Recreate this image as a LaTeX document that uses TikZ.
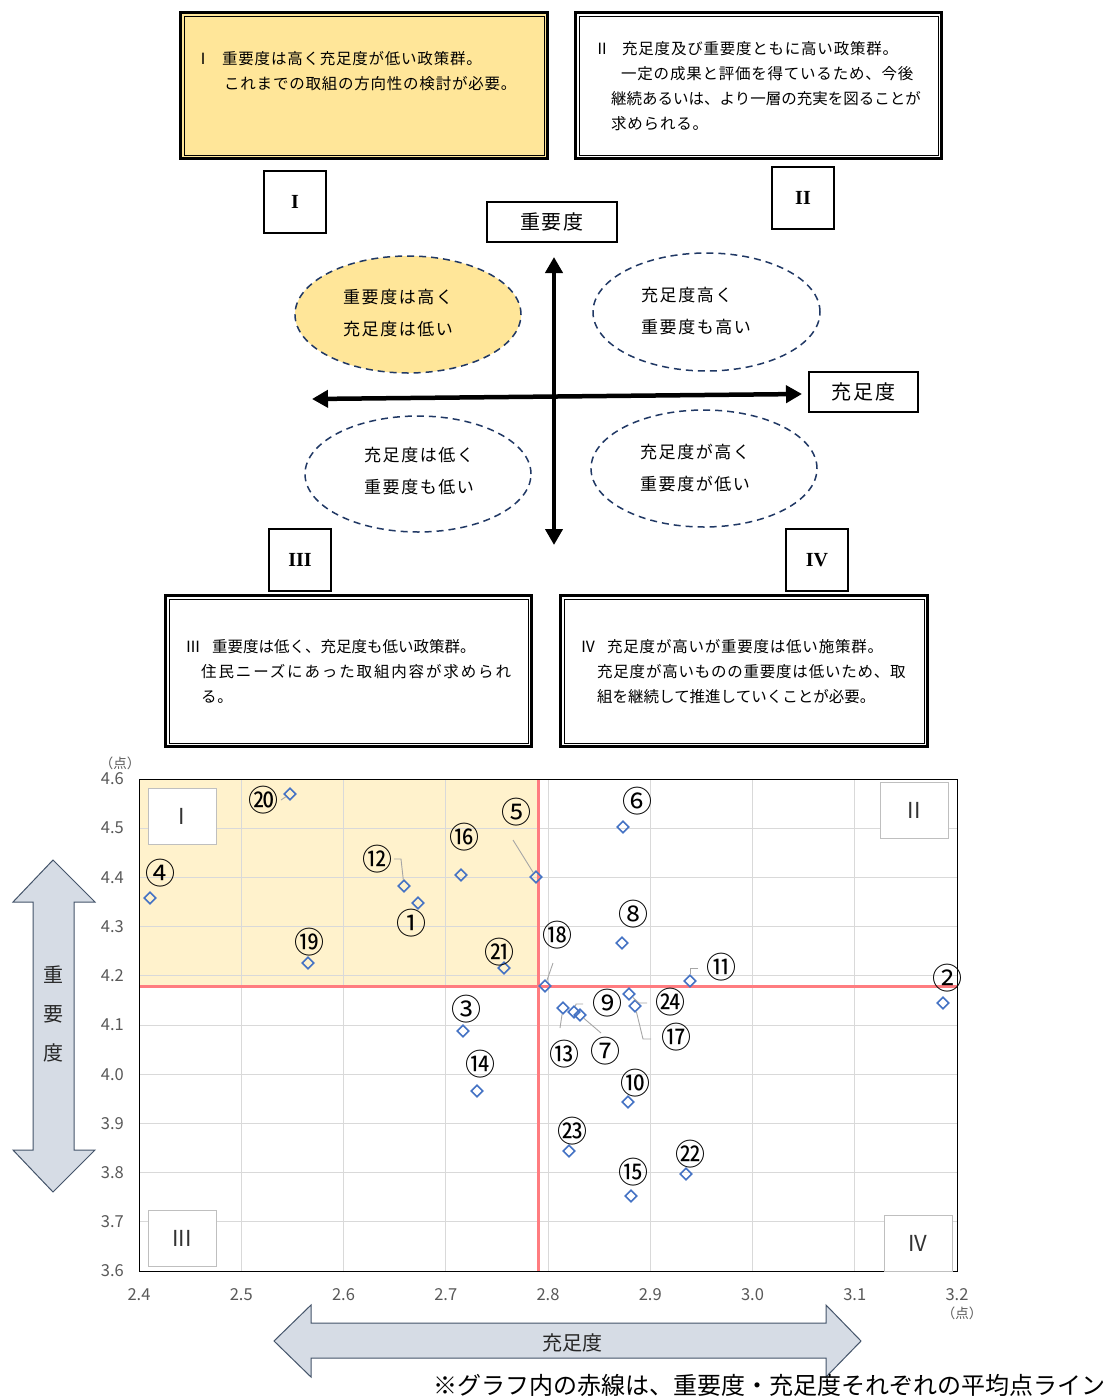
\documentclass[tikz,border=0pt]{standalone}
\usepackage{fontspec}
\setmainfont{Noto Sans CJK JP}
\newfontfamily\spfont[LetterSpace=5]{Noto Sans CJK JP}
\newfontfamily\wideffont[LetterSpace=9]{Noto Sans CJK JP}
\newfontfamily\widerfont[LetterSpace=12]{Noto Sans CJK JP}
\newfontfamily\romfont{Liberation Serif}
\usetikzlibrary{arrows.meta,shapes.geometric}
\definecolor{gold}{HTML}{FFE699}
\definecolor{paleyel}{HTML}{FFF2CC}
\definecolor{navy}{HTML}{203864}
\definecolor{redline}{HTML}{FF7C80}
\definecolor{gridc}{HTML}{D9D9D9}
\definecolor{ptblue}{HTML}{4472C4}
\definecolor{tickc}{HTML}{595959}
\definecolor{arrfill}{HTML}{D6DCE5}
\definecolor{arrline}{HTML}{44546A}
\definecolor{leadc}{HTML}{A6A6A6}
\definecolor{qbox}{HTML}{BFBFBF}
\begin{document}
\begin{tikzpicture}[x=1pt,y=-1pt,
  dblbox/.style={draw=black,line width=3pt,rectangle,inner sep=0pt},
  boxtxt/.style={anchor=west,inner sep=0pt,font=\spfont\fontsize{15.5}{18}\selectfont},
  numtxt/.style={anchor=center,inner sep=0pt,font=\fontsize{15.5}{18}\selectfont},
  romanbox/.style={draw=black,line width=1.1pt,rectangle,minimum width=62pt,minimum height=62pt,inner sep=0pt,font=\romfont\bfseries\fontsize{20}{22}\selectfont},
  axbox/.style={draw=black,line width=1.1pt,rectangle,inner sep=0pt,font=\wideffont\fontsize{20}{24}\selectfont},
  quadell/.style={draw=navy,dashed,dash pattern=on 7pt off 5pt,line width=1.5pt,ellipse,inner sep=0pt},
  elltxt/.style={anchor=west,inner sep=0pt,font=\wideffont\fontsize{17}{20}\selectfont},
  bigarrow/.style={line width=4.5pt,{Triangle[length=16pt,width=17pt]}-{Triangle[length=16pt,width=17pt]}},
  gridline/.style={draw=gridc,line width=1pt},
  avgline/.style={draw=redline,line width=3pt},
  tick/.style={inner sep=0pt,text=tickc,font=\fontsize{16.5}{18}\selectfont},
  pt/.style={diamond,draw=ptblue,line width=1.6pt,minimum width=12pt,minimum height=12pt,inner sep=0pt},
  lbl/.style={inner sep=0pt,font=\fontsize{30}{31}\selectfont},
  leader/.style={draw=leadc,line width=0.9pt},
  qlabel/.style={draw=qbox,fill=white,line width=1pt,rectangle,minimum width=68pt,minimum height=56pt,inner sep=0pt,text=black!80,font=\fontsize{22}{24}\selectfont},
  blockarrow/.style={draw=arrline,fill=arrfill,line width=1pt,line join=miter},
  arrtxt/.style={inner sep=0pt,font=\fontsize{20}{24}\selectfont,text=black!85}
]
\useasboundingbox (0,0) rectangle (1104,1398);
\fill[white] (0,0) rectangle (1104,1398);

% ---------- top and bottom explanatory boxes ----------
\node[dblbox,fill=gold,minimum width=367pt,minimum height=146pt] (bx1) at (364,85.5) {};
\draw[line width=1pt] ([shift={(5,5)}]bx1.north west) rectangle ([shift={(-5,-5)}]bx1.south east);
\node[numtxt] (n1) at (203,59) {Ⅰ};
\node[boxtxt] (t1a) at (222,59) {重要度は高く充足度が低い政策群。};
\node[boxtxt] (t1b) at (224,84) {これまでの取組の方向性の検討が必要。};

\node[dblbox,fill=white,minimum width=366pt,minimum height=146pt] (bx2) at (758.5,85.5) {};
\draw[line width=1pt] ([shift={(5,5)}]bx2.north west) rectangle ([shift={(-5,-5)}]bx2.south east);
\node[numtxt] (n2) at (602,49) {Ⅱ};
\node[boxtxt] (t2a) at (622,49) {充足度及び重要度ともに高い政策群。};
\node[boxtxt] (t2b) at (621,74) {一定の成果と評価を得ているため、今後};
\node[boxtxt,font=\fontsize{15.5}{18}\selectfont] (t2c) at (611,99) {継続あるいは、より一層の充実を図ることが};
\node[boxtxt] (t2d) at (611,124) {求められる。};

\node[dblbox,fill=white,minimum width=366pt,minimum height=151pt] (bx3) at (348.5,671) {};
\draw[line width=1pt] ([shift={(5,5)}]bx3.north west) rectangle ([shift={(-5,-5)}]bx3.south east);
\node[numtxt] (n3) at (193,647) {Ⅲ};
\node[boxtxt,font=\fontsize{15.5}{18}\selectfont] (t3a) at (212,647) {重要度は低く、充足度も低い政策群。};
\node[boxtxt,font=\widerfont\fontsize{15.5}{18}\selectfont] (t3b) at (201,672) {住民ニーズにあった取組内容が求められ};
\node[boxtxt] (t3c) at (201,697) {る。};

\node[dblbox,fill=white,minimum width=367pt,minimum height=151pt] (bx4) at (744,671) {};
\draw[line width=1pt] ([shift={(5,5)}]bx4.north west) rectangle ([shift={(-5,-5)}]bx4.south east);
\node[numtxt] (n4) at (588,647) {Ⅳ};
\node[boxtxt] (t4a) at (607,647) {充足度が高いが重要度は低い施策群。};
\node[boxtxt] (t4b) at (597,672) {充足度が高いものの重要度は低いため、取};
\node[boxtxt,font=\fontsize{15.5}{18}\selectfont] (t4c) at (597,697) {組を継続して推進していくことが必要。};

% ---------- quadrant concept diagram ----------
\node[romanbox] (r1) at (295,202) {I};
\node[romanbox] (r2) at (803,198) {II};
\node[romanbox] (r3) at (300,560) {III};
\node[romanbox] (r4) at (817,560) {IV};

\node[axbox,minimum width=130pt,minimum height=40pt] (ax1) at (552,222) {重要度};
\node[axbox,minimum width=109pt,minimum height=40pt] (ax2) at (863.5,392) {充足度};

\node[quadell,fill=gold,minimum width=226pt,minimum height=117pt] (e1) at (408,314.5) {};
\node[quadell,minimum width=227pt,minimum height=118pt] (e2) at (706.5,312) {};
\node[quadell,minimum width=226pt,minimum height=116pt] (e3) at (418,474) {};
\node[quadell,minimum width=226pt,minimum height=117pt] (e4) at (704,468.5) {};
\node[elltxt] (e1a) at (343,297) {重要度は高く};
\node[elltxt] (e1b) at (343,329) {充足度は低い};
\node[elltxt] (e2a) at (641,295) {充足度高く};
\node[elltxt] (e2b) at (641,327) {重要度も高い};
\node[elltxt] (e3a) at (364,455) {充足度は低く};
\node[elltxt] (e3b) at (364,487) {重要度も低い};
\node[elltxt] (e4a) at (640,452) {充足度が高く};
\node[elltxt] (e4b) at (640,484) {重要度が低い};

\coordinate (vtop) at (554,257);
\coordinate (vbot) at (554,545);
\coordinate (hleft) at (312,399);
\coordinate (hright) at (802,394);
\draw[bigarrow] (vbot) -- (vtop);
\draw[bigarrow] (hleft) -- (hright);

% ---------- scatter chart ----------
\fill[paleyel] (139,779) rectangle (538,986);
\foreach \gx in {241.25,343.5,445.75,548,650.25,752.5,854.75}
  \draw[gridline] (\gx,779) -- (\gx,1271);
\foreach \gy in {828.2,877.4,926.6,975.8,1025,1074.2,1123.4,1172.6,1221.8}
  \draw[gridline] (139,\gy) -- (957,\gy);
\draw[avgline] (538,779) -- (538,1271);
\draw[avgline] (139,986) -- (957,986);
\draw[black,line width=1pt] (139,779) rectangle (957,1271);

% y ticks
\foreach \v/\yy in {4.6/779,4.5/828.2,4.4/877.4,4.3/926.6,4.2/975.8,4.1/1025,4.0/1074.2,3.9/1123.4,3.8/1172.6,3.7/1221.8,3.6/1271}
  \node[tick,anchor=east] at (124,\yy) {\v};
% x ticks
\foreach \v/\xx in {2.4/139,2.5/241.25,2.6/343.5,2.7/445.75,2.8/548,2.9/650.25,3.0/752.5,3.1/854.75,3.2/957}
  \node[tick] at (\xx,1295) {\v};
\node[tick,font=\fontsize{13.5}{14}\selectfont] (ptu1) at (120,763) {（点）};
\node[tick,font=\fontsize{13.5}{14}\selectfont] (ptu2) at (962,1313) {（点）};

% quadrant labels inside chart
\node[qlabel] (q1) at (182,816) {I};
\node[qlabel] (q2) at (914,810) {II};
\node[qlabel] (q3) at (182,1238) {III};
\node[qlabel] (q4) at (918,1243) {IV};

% data points
\node[pt] (p1) at (418,903) {};
\node[pt] (p2) at (943,1003) {};
\node[pt] (p3) at (463,1031) {};
\node[pt] (p4) at (150,898) {};
\node[pt] (p5) at (536,877) {};
\node[pt] (p6) at (623,827) {};
\node[pt] (p7) at (580,1015) {};
\node[pt] (p8) at (622,943) {};
\node[pt] (p9) at (574,1012) {};
\node[pt] (p10) at (628,1102) {};
\node[pt] (p11) at (690,981) {};
\node[pt] (p12) at (404,886) {};
\node[pt] (p13) at (563,1008) {};
\node[pt] (p14) at (477,1091) {};
\node[pt] (p15) at (631,1196) {};
\node[pt] (p16) at (461,875) {};
\node[pt] (p17) at (635,1006) {};
\node[pt] (p18) at (545,986) {};
\node[pt] (p19) at (308,963) {};
\node[pt] (p20) at (290,794) {};
\node[pt] (p21) at (504,968) {};
\node[pt] (p22) at (686,1174) {};
\node[pt] (p23) at (569,1151) {};
\node[pt] (p24) at (629,994) {};

% labels
\node[lbl] (l1) at (411,923) {①};
\node[lbl] (l2) at (947,978) {②};
\node[lbl] (l3) at (466,1009) {③};
\node[lbl] (l4) at (160,873) {④};
\node[lbl] (l5) at (516,812) {⑤};
\node[lbl] (l6) at (637,801) {⑥};
\node[lbl] (l7) at (605,1051) {⑦};
\node[lbl] (l8) at (633,914) {⑧};
\node[lbl] (l9) at (607,1003) {⑨};
\node[lbl] (l10) at (635,1083) {⑩};
\node[lbl] (l11) at (721,967) {⑪};
\node[lbl] (l12) at (377,859) {⑫};
\node[lbl] (l13) at (564,1054) {⑬};
\node[lbl] (l14) at (480,1064) {⑭};
\node[lbl] (l15) at (633,1172) {⑮};
\node[lbl] (l16) at (464,837) {⑯};
\node[lbl] (l17) at (676,1037) {⑰};
\node[lbl] (l18) at (557,935) {⑱};
\node[lbl] (l19) at (309,942) {⑲};
\node[lbl] (l20) at (263,800) {⑳};
\node[lbl] (l21) at (499,952) {㉑};
\node[lbl] (l22) at (690,1154) {㉒};
\node[lbl] (l23) at (572,1131) {㉓};
\node[lbl] (l24) at (670,1002) {㉔};

% leader lines
\coordinate (c5) at (513,840);
\draw[leader] (c5) -- (p5);
\coordinate (c7) at (601,1033);
\draw[leader] (c7) -- (p7);
\coordinate (c9) at (583,1004);
\coordinate (b9) at (576,1004);
\draw[leader] (c9) -- (b9) -- (p9);
\coordinate (c11) at (698,968);
\coordinate (b11) at (690,968);
\draw[leader] (c11) -- (b11) -- (p11);
\coordinate (c12) at (394,859);
\coordinate (b12) at (401,859);
\draw[leader] (c12) -- (b12) -- (p12);
\coordinate (c13) at (560,1028);
\draw[leader] (c13) -- (p13);
\coordinate (c17) at (651,1039);
\coordinate (b17) at (643,1039);
\draw[leader] (c17) -- (b17) -- (p17);
\coordinate (c18) at (553,963);
\draw[leader] (c18) -- (p18);
\coordinate (c20) at (281,800);
\draw[leader] (c20) -- (p20);
\coordinate (c24) at (647,1003);
\coordinate (b24) at (639,1003);
\draw[leader] (c24) -- (b24) -- (p24);

% block arrows
\draw[blockarrow] (53,860) -- (13,902) -- (33,902) -- (33,1150) -- (13,1150) -- (53,1192) -- (95,1150) -- (74,1150) -- (74,902) -- (95,902) -- cycle;
\node[arrtxt] (ya) at (53,975) {重};
\node[arrtxt] (yb) at (53,1014) {要};
\node[arrtxt] (yc) at (53,1053) {度};
\draw[blockarrow] (274,1341) -- (311,1305) -- (311,1323) -- (826,1323) -- (826,1305) -- (861,1341) -- (826,1377) -- (826,1358) -- (311,1358) -- (311,1377) -- cycle;
\node[arrtxt] (xa) at (572,1343) {充足度};

% footnote
\node[anchor=west,inner sep=0pt,font=\fontsize{24}{26}\selectfont] (fn) at (433,1385) {※グラフ内の赤線は、重要度・充足度それぞれの平均点ライン};
\end{tikzpicture}
\end{document}
